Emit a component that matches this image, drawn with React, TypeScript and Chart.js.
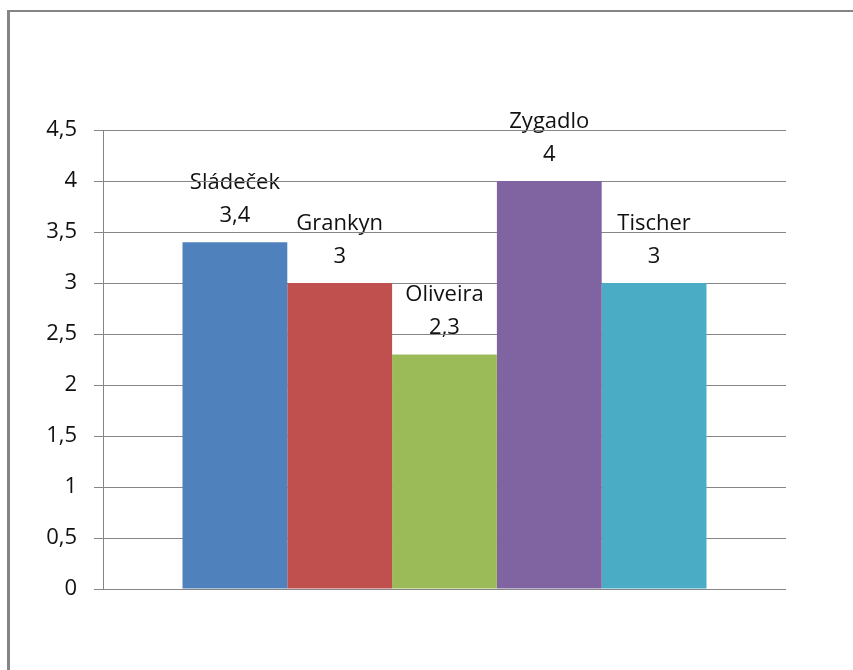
import React, { useEffect, useRef } from "react";
import { Chart, registerables } from "chart.js";

Chart.register(...registerables);

// Player scores shown as one group of coloured bars
const players = ["Sládeček", "Grankyn", "Oliveira", "Zygadlo", "Tischer"];
const scores = [3.4, 3, 2.3, 4, 3];
const barColors = ["#4F81BD", "#C0504D", "#9BBB59", "#8064A2", "#4BACC6"];
const groupLabels = [""];
const yMin = 0;
const yMax = 4.5;
const yStep = 0.5;

const FONT = "'Open Sans', 'Noto Sans', sans-serif";
const FONT_SIZE = 22;
const GRID = "#868686";

const fmt = (v: number) => String(v).replace(".", ",");

// Frame around the drawing plus the name/value captions above each bar.
// Drawn before the scales so the grid lines run over the captions.
const captionsPlugin = {
  id: "captions",
  beforeDraw(chart: Chart) {
    const ctx = chart.ctx;
    ctx.save();
    ctx.fillStyle = "#ffffff";
    ctx.fillRect(0, 0, chart.width, chart.height);

    ctx.fillStyle = "#858585";
    ctx.fillRect(7, 11, 3, chart.height - 11);
    ctx.fillRect(7, 10, chart.width - 7, 2);

    ctx.fillStyle = "#111111";
    ctx.font = `${FONT_SIZE}px ${FONT}`;
    ctx.textAlign = "center";
    ctx.textBaseline = "alphabetic";
    chart.data.datasets.forEach((ds, i) => {
      const meta = chart.getDatasetMeta(i);
      const bar: any = meta.data[0];
      if (!bar) return;
      const v = ds.data[0] as number;
      ctx.fillText(fmt(v), bar.x, bar.y - 20);
      ctx.fillText(String(ds.label), bar.x, bar.y - 53);
    });
    ctx.restore();
  },
};

export default function App() {
  const canvasRef = useRef<HTMLCanvasElement | null>(null);

  useEffect(() => {
    const canvas = canvasRef.current;
    if (!canvas) return;
    const chart = new Chart(canvas, {
      type: "bar",
      data: {
        labels: groupLabels,
        datasets: players.map((name, i) => ({
          label: name,
          data: [scores[i]],
          backgroundColor: barColors[i],
          borderWidth: 0,
          categoryPercentage: 0.7672,
          barPercentage: 1,
        })),
      },
      options: {
        responsive: false,
        animation: false,
        devicePixelRatio: 1,
        layout: { padding: { top: 130, bottom: 81, right: 67, left: 0 } },
        plugins: {
          legend: { display: false },
          tooltip: { enabled: false },
          title: { display: false },
        },
        scales: {
          x: { display: false },
          y: {
            min: yMin,
            max: yMax,
            afterFit: (scale: any) => {
              scale.width = 103;
            },
            ticks: {
              stepSize: yStep,
              padding: 17,
              color: "#111111",
              font: { family: FONT, size: FONT_SIZE },
              callback: (v: any) => fmt(Number(v)),
            },
            grid: {
              color: GRID,
              lineWidth: 1,
              tickLength: 9,
              drawTicks: true,
            },
            border: { display: true, color: GRID, width: 1 },
          },
        },
      },
      plugins: [captionsPlugin],
    });
    return () => chart.destroy();
  }, []);

  return (
    <div style={{ position: "fixed", left: 0, top: 0, width: 853, height: 670, background: "#fff" }}>
      <canvas ref={canvasRef} width={853} height={670} style={{ display: "block" }} />
    </div>
  );
}
